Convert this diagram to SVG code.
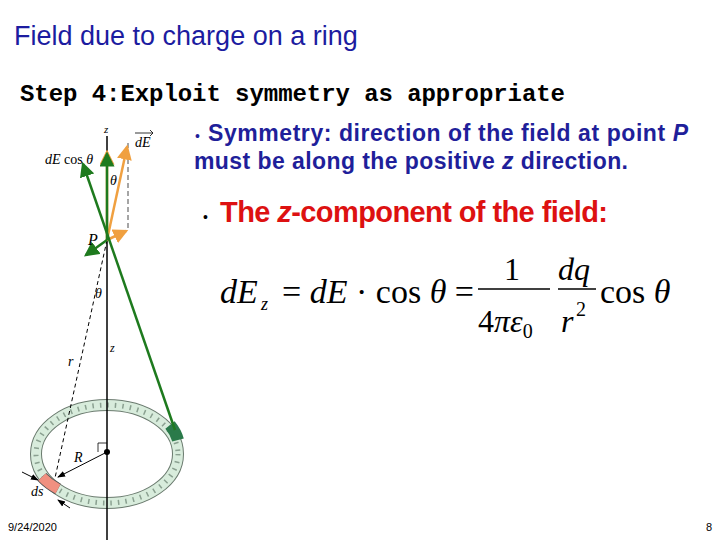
<svg xmlns="http://www.w3.org/2000/svg" width="720" height="540" viewBox="0 0 720 540">
<style>
.t{font-family:"Liberation Sans",Arial,sans-serif}
.s{font-family:"Liberation Serif","Times New Roman",serif;font-style:italic}
.m{font-family:"Liberation Serif","Times New Roman",serif}
.b{fill:#1f1f9a;font-weight:bold;font-size:23px}
.g{stroke:#1e7a1e;stroke-width:2.5;fill:none}
.o{stroke:#f0a040;stroke-width:2.5;fill:none}
</style>
<defs>
<marker id="ga" markerWidth="6" markerHeight="6" refX="5" refY="3" orient="auto" markerUnits="strokeWidth"><path d="M0,0L6,3L0,6z" fill="#1e7a1e"/></marker>
<marker id="oa" markerWidth="6" markerHeight="6" refX="5" refY="3" orient="auto" markerUnits="strokeWidth"><path d="M0,0L6,3L0,6z" fill="#f0a040"/></marker>
<marker id="ka" markerWidth="8" markerHeight="8" refX="7" refY="4" orient="auto" markerUnits="strokeWidth"><path d="M0,1L8,4L0,7z" fill="#000"/></marker>
</defs>
<rect width="720" height="540" fill="#fff"/>
<text class="t" x="14" y="45" font-size="27" fill="#1c1ca0">Field due to charge on a ring</text>
<text x="20" y="101" font-family="'Liberation Mono','Courier New',monospace" font-weight="bold" font-size="24" textLength="545">Step 4:Exploit symmetry as appropriate</text>
<text class="t" x="195" y="141" font-size="14" fill="#1f1f9a">•</text>
<text class="t b" x="208" y="141" textLength="480">Symmetry: direction of the field at point <tspan font-style="italic">P</tspan></text>
<text class="t b" x="194" y="169" textLength="434">must be along the positive <tspan font-style="italic">z</tspan> direction.</text>
<text class="t" x="203" y="222" font-size="14" fill="#000">•</text>
<text class="t" x="220" y="222" font-size="29" font-weight="bold" fill="#dd1111" textLength="388">The <tspan font-style="italic">z</tspan>-component of the field:</text>
<g id="equation">
<text class="s" x="220" y="303" font-size="34">dE</text><text class="s" x="261" y="310" font-size="18">z</text>
<text class="m" x="282" y="303" font-size="34">= <tspan font-style="italic">dE</tspan> · cos <tspan font-style="italic">θ</tspan> =</text>
<text class="m" x="504" y="280" font-size="32">1</text>
<line x1="478" y1="289" x2="550" y2="289" stroke="#000" stroke-width="1.5"/>
<text class="m" x="478" y="332" font-size="32">4<tspan font-style="italic">πε</tspan><tspan font-size="20" dy="6">0</tspan></text>
<text class="s" x="558" y="280" font-size="32">dq</text>
<line x1="558" y1="289" x2="596" y2="289" stroke="#000" stroke-width="1.5"/>
<text class="s" x="561" y="332" font-size="32">r</text><text class="m" x="576" y="316" font-size="20">2</text>
<text class="m" x="600" y="303" font-size="34">cos <tspan font-style="italic">θ</tspan></text>
</g>
<g id="ring">
<ellipse cx="107" cy="454" rx="71" ry="49" fill="none" stroke="#6a7a6e" stroke-width="12"/>
<ellipse cx="107" cy="454" rx="71" ry="49" fill="none" stroke="#d8ecdc" stroke-width="10"/>
<ellipse cx="107" cy="454" rx="71" ry="49" fill="none" stroke="#8aa090" stroke-width="5" stroke-dasharray="1.5 6"/>
<path d="M42,477 A71,49 0 0 0 58,489" stroke="#555" stroke-width="12" fill="none"/>
<path d="M42,477 A71,49 0 0 0 58,489" stroke="#f09080" stroke-width="10" fill="none"/>
<path d="M170,425 A71,49 0 0 1 178,440" stroke="#2a7a4a" stroke-width="12" fill="none"/>
</g>
<g id="axis">
<line x1="107" y1="136" x2="107" y2="540" stroke="#000" stroke-width="1.5"/>
<circle cx="107" cy="452" r="3"/>
<path d="M107,443 h-9 v9" fill="none" stroke="#000" stroke-width="0.8"/>
<line x1="107" y1="240" x2="55" y2="478" stroke="#000" stroke-dasharray="4 3"/>
<line x1="107" y1="452" x2="58" y2="477" stroke="#000" marker-end="url(#ka)"/>
<line x1="22" y1="472" x2="38" y2="480" stroke="#000" marker-end="url(#ka)"/>
<line x1="70" y1="508" x2="58" y2="500" stroke="#000" marker-end="url(#ka)"/>
<line x1="128" y1="143" x2="128" y2="228" stroke="#888" stroke-width="1.5" stroke-dasharray="5 3"/>
</g>
<g id="connectors">
<line class="o" x1="107" y1="240" x2="127" y2="147" marker-end="url(#oa)"/>
<line class="o" x1="107" y1="240" x2="126" y2="231" marker-end="url(#oa)"/>
<line class="o" x1="107" y1="240" x2="107" y2="152" marker-end="url(#oa)"/>
<line class="g" x1="175" y1="430" x2="83" y2="164" marker-end="url(#ga)"/>
<line class="g" x1="107" y1="240" x2="86" y2="255" marker-end="url(#ga)"/>
<line class="g" x1="107" y1="240" x2="107" y2="154" marker-end="url(#ga)"/>
</g>
<g id="labels" class="s" font-size="14">
<text x="104" y="133" font-size="11">z</text>
<text x="45" y="164">dE <tspan font-style="normal">cos</tspan> θ</text>
<text x="135" y="147">dE</text>
<path d="M135,133 h18 M150,130 l3,3 l-3,3" stroke="#000" fill="none" stroke-width="0.8"/>
<text x="110" y="185">θ</text>
<text x="88" y="245" font-size="16">P</text>
<text x="95" y="298">θ</text>
<text x="110" y="352" font-size="12">z</text>
<text x="68" y="366">r</text>
<text x="74" y="462">R</text>
<text x="31" y="496">ds</text>
</g>
<text class="t" x="8" y="531" font-size="11">9/24/2020</text>
<text class="t" x="706" y="531" font-size="11">8</text>
</svg>
